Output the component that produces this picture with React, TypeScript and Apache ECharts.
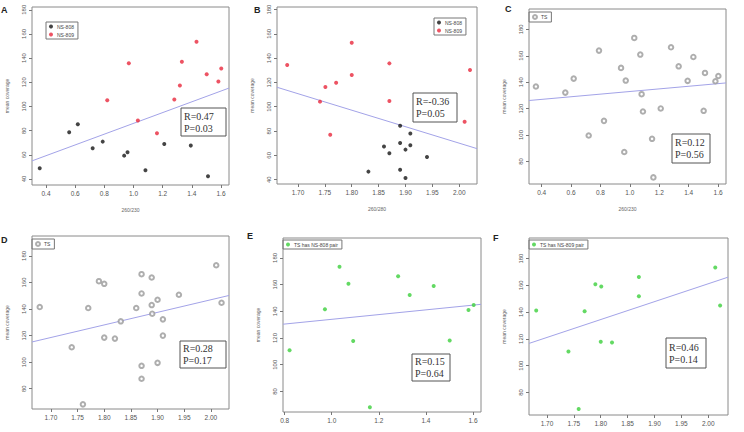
import React, { useEffect, useRef } from "react";
import * as echarts from "echarts";

// ---- data ----
const panelLetters = ["A", "B", "C", "D", "E", "F"];
const xTitles = ["260/230", "260/280", "260/230", "", "", ""];
const yTitle = "mean coverage";

const xTicks230 = [0.4, 0.6, 0.8, 1.0, 1.2, 1.4, 1.6];
const xTicks280 = [1.7, 1.75, 1.8, 1.85, 1.9, 1.95, 2.0];
const xTicksE = [0.8, 1.0, 1.2, 1.4, 1.6];
const yTicksAB = [40, 60, 80, 100, 120, 140, 160, 180];
const yTicksCF = [80, 100, 120, 140, 160, 180];

const xRanges = [[0.304, 1.655], [1.661, 2.033], [0.314, 1.654], [1.6645, 2.034], [0.793, 1.634], [1.6666, 2.0367]];
const yRanges = [[35, 182.3], [36.4, 182.1], [62.9, 195.4], [64.75, 195], [64.6, 194.9], [63.1, 195.4]];

// regression fits: [intercept, slope]
const fits = [[41.4, 44.6], [341.6, -135.8], [123.0, 9.93], [-42.4, 94.7], [116.3, 17.7], [-106.4, 133.8]];
const rLabels = ["R=0.47", "R=-0.36", "R=0.12", "R=0.28", "R=0.15", "R=0.46"];
const pLabels = ["P=0.03", "P=0.05", "P=0.56", "P=0.17", "P=0.64", "P=0.14"];

const legendNS808 = "NS-808";
const legendNS809 = "NS-809";
const legendTS = "TS";
const legendE = "TS has NS-808 pair";
const legendF = "TS has NS-809 pair";

const aBlack = [[0.357, 48.8], [0.559, 78.7], [0.618, 85.3], [0.72, 65.4], [0.789, 70.9], [0.936, 59.3], [0.959, 62.1], [1.082, 47.2], [1.211, 69.0], [1.393, 67.6], [1.511, 42.2]];
const aRed = [[0.82, 105.2], [0.968, 135.8], [1.03, 88.3], [1.161, 77.8], [1.28, 105.7], [1.318, 117.3], [1.332, 137.0], [1.432, 153.5], [1.502, 126.7], [1.582, 120.7], [1.602, 131.4]];

const bBlack = [[1.831, 46.6], [1.86, 67.2], [1.87, 61.7], [1.89, 84.4], [1.89, 70.2], [1.89, 48.2], [1.9, 64.7], [1.9, 41.4], [1.909, 77.9], [1.909, 68.3], [1.94, 58.7]];
const bRed = [[1.68, 134.4], [1.741, 104.2], [1.751, 116.3], [1.76, 77.0], [1.771, 119.8], [1.8, 126.1], [1.8, 152.7], [1.87, 135.7], [1.87, 104.7], [2.01, 87.7], [2.02, 130.2]];

const cTS = [[0.361, 136.7], [0.561, 132.1], [0.618, 142.7], [0.72, 99.6], [0.79, 163.9], [0.824, 110.7], [0.94, 150.8], [0.962, 87.1], [0.972, 141.2], [1.03, 173.5], [1.071, 160.9], [1.08, 130.9], [1.089, 117.8], [1.151, 97.1], [1.16, 67.9], [1.21, 120.1], [1.28, 166.4], [1.332, 152.0], [1.393, 141.0], [1.432, 159.1], [1.502, 118.3], [1.511, 147.0], [1.582, 140.7], [1.602, 144.7]];

const dTS = [[1.679, 141.5], [1.739, 111.25], [1.76, 68.25], [1.77, 140.75], [1.79, 161], [1.8, 159], [1.8, 118.5], [1.82, 117.75], [1.831, 130.75], [1.86, 140.75], [1.87, 166.25], [1.87, 151.75], [1.87, 97.25], [1.87, 87.5], [1.889, 163.75], [1.889, 143], [1.89, 136.5], [1.9, 147], [1.9, 99.5], [1.91, 132.25], [1.91, 120], [1.94, 150.75], [2.01, 173], [2.02, 144.75]];

const eTS808 = [[0.821, 110.9], [0.971, 141.5], [1.033, 173.3], [1.071, 160.6], [1.091, 117.8], [1.162, 68.1], [1.282, 166.3], [1.331, 152.2], [1.433, 158.9], [1.501, 118.1], [1.581, 141.0], [1.603, 144.7]];

const fTS809 = [[1.68, 141.2], [1.74, 110.6], [1.759, 67.6], [1.77, 140.7], [1.79, 160.9], [1.801, 159.1], [1.8, 117.8], [1.821, 117.3], [1.871, 166.3], [1.871, 151.9], [2.013, 173.3], [2.022, 144.9]];

// ---- layout / styling ----
const BLACK = "#151515";
const RED = "#e8283c";
const GREEN = "#3ccf3c";
const GRAY = "#9a9a9a";
const FIT = "#a3a3e8";

const grids = [
  { left: 32, top: 7, width: 197, height: 178 },
  { left: 277, top: 7, width: 200, height: 177 },
  { left: 529, top: 9, width: 197, height: 175 },
  { left: 32, top: 236, width: 197, height: 173 },
  { left: 283, top: 238, width: 198, height: 174 },
  { left: 529, top: 238, width: 199, height: 177 },
];
const xTickSets = [xTicks230, xTicks280, xTicks230, xTicks280, xTicksE, xTicks280];
const xDecimals = [1, 2, 1, 2, 1, 2];
const yTickSets = [yTicksAB, yTicksAB, yTicksCF, yTicksCF, yTicksCF, yTicksCF];
const panelSeries: [string, number[][], string, boolean][][] = [
  [[legendNS808, aBlack, BLACK, false], [legendNS809, aRed, RED, false]],
  [[legendNS808, bBlack, BLACK, false], [legendNS809, bRed, RED, false]],
  [[legendTS, cTS, GRAY, true]],
  [[legendTS, dTS, GRAY, true]],
  [[legendE, eTS808, GREEN, false]],
  [[legendF, fTS809, GREEN, false]],
];
const legendPos = [[46, 22], [434, 18], [529, 12], [32, 239], [283, 240], [529, 240]];
const rBoxes = [
  { x: 181, y: 108, w: 45, h: 28 },
  { x: 413, y: 93, w: 44, h: 29 },
  { x: 672, y: 134, w: 38, h: 29 },
  { x: 180, y: 341, w: 46, h: 27 },
  { x: 412, y: 354, w: 38, h: 27 },
  { x: 666, y: 338, w: 40, h: 30 },
];
const letterPos = [[1, 5], [254, 5], [505, 4], [1, 235], [247, 231], [493, 233]];

function xAxisPart(i: number, labels: number[], withTicks: boolean, name: string) {
  return {
    type: "value",
    position: "bottom",
    min: xRanges[i][0],
    max: xRanges[i][1],
    name,
    nameLocation: "middle",
    nameGap: 22,
    nameTextStyle: { fontSize: 5, color: "#666" },
    axisLine: { show: false, onZero: false },
    axisTick: withTicks
      ? { show: true, inside: false, length: 3, lineStyle: { color: "#777" }, customValues: [...xTickSets[i]] }
      : { show: false },
    axisLabel: {
      fontSize: 6.5,
      color: "#555",
      margin: 5,
      interval: 0,
      hideOverlap: false,
      customValues: labels,
      formatter: (v: number) => v.toFixed(xDecimals[i]),
    },
    splitLine: { show: false },
  };
}

function buildOption(i: number) {
  const ticks = xTickSets[i];
  const evenLabels = ticks.filter((_, k) => k % 2 === 0);
  const oddLabels = ticks.filter((_, k) => k % 2 === 1);
  const series: any[] = panelSeries[i].map(([name, data, color, empty]) => ({
    type: "scatter",
    name,
    data,
    xAxisIndex: 0,
    symbol: empty ? "emptyCircle" : "circle",
    symbolSize: empty ? 4.5 : 4,
    itemStyle: empty ? { color, borderWidth: 0.7 } : { color },
    z: 3,
  }));
  series.push({
    type: "line",
    xAxisIndex: 0,
    symbol: "none",
    silent: true,
    data: xRanges[i].map((x) => [x, fits[i][0] + fits[i][1] * x]),
    lineStyle: { color: FIT, width: 1 },
    z: 2,
  });
  const b = rBoxes[i];
  return {
    animation: false,
    backgroundColor: "transparent",
    textStyle: { fontFamily: "'Liberation Sans', Arial, sans-serif" },
    grid: { ...grids[i], show: true, borderColor: "#8a8a8a", borderWidth: 1, backgroundColor: "transparent" },
    xAxis: [xAxisPart(i, evenLabels, true, xTitles[i]), xAxisPart(i, oddLabels, false, "")],
    yAxis: {
      type: "value",
      min: yRanges[i][0],
      max: yRanges[i][1],
      name: yTitle,
      nameLocation: "middle",
      nameGap: 23,
      nameRotate: 90,
      nameTextStyle: { fontSize: 5, color: "#666" },
      axisLine: { show: false },
      axisTick: { show: true, inside: false, length: 3, lineStyle: { color: "#777" }, customValues: [...yTickSets[i]] },
      axisLabel: { fontSize: 6, color: "#555", margin: 5, rotate: 90, interval: 0, hideOverlap: false, customValues: [...yTickSets[i]] },
      splitLine: { show: false },
    },
    legend: {
      orient: "vertical",
      left: legendPos[i][0],
      top: legendPos[i][1],
      data: panelSeries[i].map((s) => s[0]),
      borderColor: "#777",
      borderWidth: 1,
      padding: [2, 4, 2, 3],
      itemWidth: 4,
      itemHeight: 4,
      itemGap: 3,
      selectedMode: false,
      textStyle: { fontSize: 5, color: "#444", padding: [0, 0, 0, -1] },
    },
    series,
    graphic: [
      {
        type: "rect",
        shape: { x: b.x, y: b.y, width: b.w, height: b.h },
        style: { fill: "#fff", stroke: "#555", lineWidth: 1 },
        z: 10,
      },
      {
        type: "text",
        x: b.x + 3,
        y: b.y + b.h / 2,
        style: {
          text: rLabels[i] + "\n" + pLabels[i],
          font: "10px 'Liberation Serif', 'DejaVu Serif', serif",
          fill: "#333",
          lineHeight: 12,
          verticalAlign: "middle",
          align: "left",
        },
        z: 11,
      },
      {
        type: "text",
        x: letterPos[i][0],
        y: letterPos[i][1],
        style: { text: panelLetters[i], font: "bold 9px 'Liberation Sans', Arial, sans-serif", fill: "#222" },
        z: 11,
      },
    ],
  };
}

function Panel({ index }: { index: number }) {
  const ref = useRef<HTMLDivElement>(null);
  useEffect(() => {
    if (!ref.current) return;
    const chart = echarts.init(ref.current, null, { renderer: "svg" });
    chart.setOption(buildOption(index) as any);
    return () => chart.dispose();
  }, [index]);
  return <div ref={ref} style={{ position: "absolute", left: 0, top: 0, width: 744, height: 432 }} />;
}

export default function App() {
  return (
    <div style={{ position: "fixed", left: 0, top: 0, width: 744, height: 432, background: "#fff" }}>
      {panelLetters.map((_, i) => (
        <Panel key={i} index={i} />
      ))}
    </div>
  );
}
